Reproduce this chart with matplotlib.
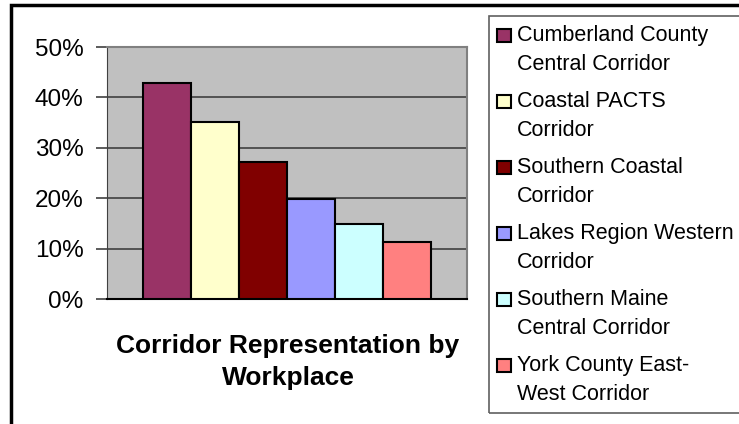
import matplotlib.pyplot as plt
from matplotlib.patches import Rectangle

plt.rcParams['font.family'] = ['Liberation Sans', 'DejaVu Sans']

# data
corridors = ["Cumberland County\nCentral Corridor", "Coastal PACTS\nCorridor",
             "Southern Coastal\nCorridor", "Lakes Region Western\nCorridor",
             "Southern Maine\nCentral Corridor", "York County East-\nWest Corridor"]
shares = [42.8, 35.2, 27.2, 19.8, 14.9, 11.4]
colors = ["#993366", "#FFFFCC", "#800000", "#9999FF", "#CCFFFF", "#FF8080"]
yticks = [0, 10, 20, 30, 40, 50]
title = "Corridor Representation by\nWorkplace"

W, H = 739, 424
fig = plt.figure(figsize=(W / 100, H / 100), dpi=100)
ax = fig.add_axes([107 / W, 1 - 299 / H, 360 / W, 252 / H])
ax.set_facecolor("#C0C0C0")

x = list(range(len(shares)))
ax.bar(x, shares, width=1.0, color=colors, edgecolor="black", linewidth=1.5, zorder=3)

ax.set_xlim(-1.25, 6.25)
ax.set_ylim(0, 50)
ax.set_yticks(yticks)
ax.set_yticklabels([f"{v}%" for v in yticks], fontsize=17.5)
ax.set_xticks([])
ax.grid(axis="y", color="#404040", linewidth=1.2, zorder=1)
ax.tick_params(axis="y", length=8, width=1.2, color="#404040", pad=9)
for s in ["top", "right"]:
    ax.spines[s].set_color("#808080")
    ax.spines[s].set_linewidth(1.5)
ax.spines["left"].set_color("#404040")
ax.spines["bottom"].set_color("black")
ax.spines["bottom"].set_linewidth(1.5)

fig.text(288 / W, 1 - 362 / H, title, ha="center", va="center",
         fontsize=19, fontweight="bold", linespacing=1.45)

# outer frame
fig.patches.append(Rectangle((11 / W, -0.1), 1.2, 1.1 - 5 / H, transform=fig.transFigure,
                             fill=False, edgecolor="black", linewidth=2.5))

# legend box
fig.patches.append(Rectangle((489 / W, 1 - 413 / H), 0.5, (413 - 16) / H,
                             transform=fig.transFigure, fill=False,
                             edgecolor="#606060", linewidth=1.2))
for i, (lab, c) in enumerate(zip(corridors, colors)):
    yc = 35 + 66 * i
    fig.patches.append(Rectangle((497 / W, 1 - (yc + 7) / H), 14 / W, 13 / H,
                                 transform=fig.transFigure, facecolor=c,
                                 edgecolor="black", linewidth=1.5))
    fig.text(517 / W, 1 - (yc + 15) / H, lab, ha="left", va="center",
             fontsize=15.5, linespacing=1.45)

fig.savefig("out.png", dpi=100)
